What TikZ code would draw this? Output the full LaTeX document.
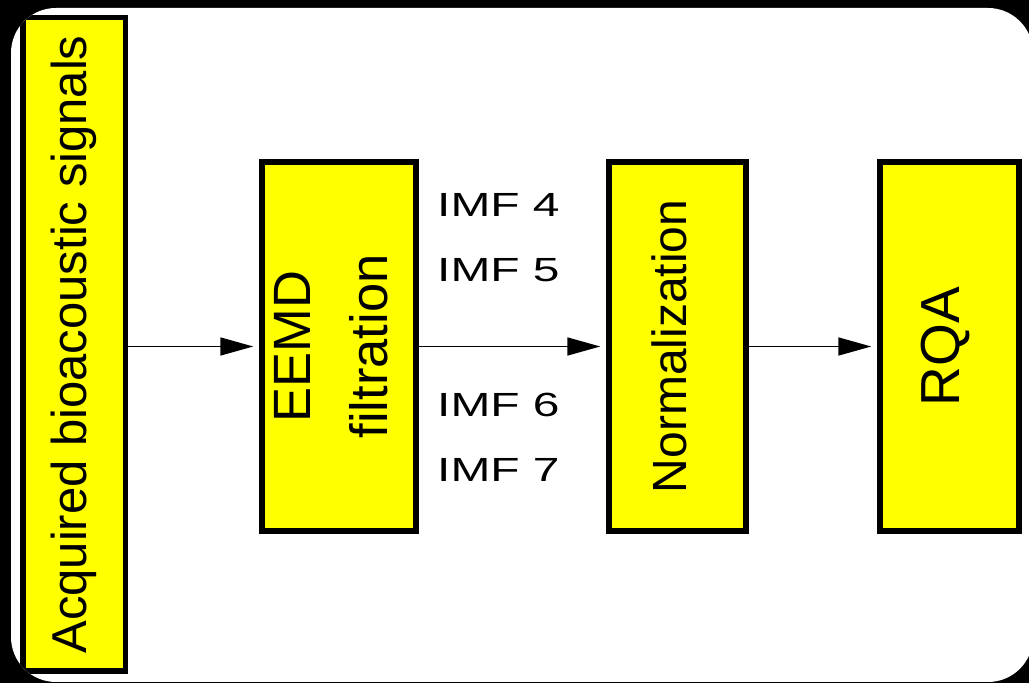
\documentclass[tikz,border=0pt]{standalone}
\usepackage{fontspec}
\setmainfont{Liberation Sans}
\usepackage{graphicx}
\usetikzlibrary{arrows.meta}
\definecolor{boxyellow}{RGB}{255,255,0}
\begin{document}
\begin{tikzpicture}[x=1pt,y=1pt,
  box/.style={draw=black, fill=boxyellow, line width=5.5pt, inner sep=0pt},
  flow/.style={line width=1.7pt, -{Triangle[length=33pt,width=18pt]}, shorten >=6pt},
  imf/.style={anchor=base west, inner sep=0pt, font=\fontsize{33.5}{40}\selectfont}]
\useasboundingbox (0,0) rectangle (1029,683);
\fill[black] (0,0) rectangle (1029,683);
\fill[white, rounded corners=45pt] (11,1) rectangle (1033,675);
\begin{scope}
\clip[rounded corners=45pt] (11,1) rectangle (1033,675);
\node[box, minimum width=102.5pt, minimum height=653.5pt] (acq) at (74,338.5)
  {\rotatebox{90}{\raisebox{0pt}[\height][\depth]{\fontsize{49}{58}\selectfont Acquired bioacoustic signals}}};
\node[box, minimum width=138pt, minimum height=369pt] (eemd) at (339,336.5)
  {\rotatebox{90}{\raisebox{5pt}[\height][\depth]{\fontsize{52.5}{77}\selectfont\begin{tabular}{@{}c@{}}EEMD\\filtration\end{tabular}}}};
\node[box, minimum width=137pt, minimum height=369pt] (norm) at (677.5,336.5)
  {\rotatebox{90}{\raisebox{8pt}[\height][\depth]{\fontsize{48}{58}\selectfont Normalization}}};
\node[box, minimum width=139pt, minimum height=369pt] (rqa) at (949.5,336.5)
  {\rotatebox{90}{\raisebox{4pt}[\height][\depth]{\fontsize{55}{66}\selectfont RQA}}};
\end{scope}
\draw[flow] (acq.east |- eemd.west) -- (eemd.west);
\draw[flow] (eemd.east) -- (norm.west);
\draw[flow] (norm.east) -- (rqa.west);
\node[imf] (i4) at (437,466) {\scalebox{1.43}[1]{IMF 4}};
\node[imf] (i5) at (437,401) {\scalebox{1.43}[1]{IMF 5}};
\node[imf] (i6) at (437,266) {\scalebox{1.43}[1]{IMF 6}};
\node[imf] (i7) at (437,201) {\scalebox{1.43}[1]{IMF 7}};
\end{tikzpicture}
\end{document}
